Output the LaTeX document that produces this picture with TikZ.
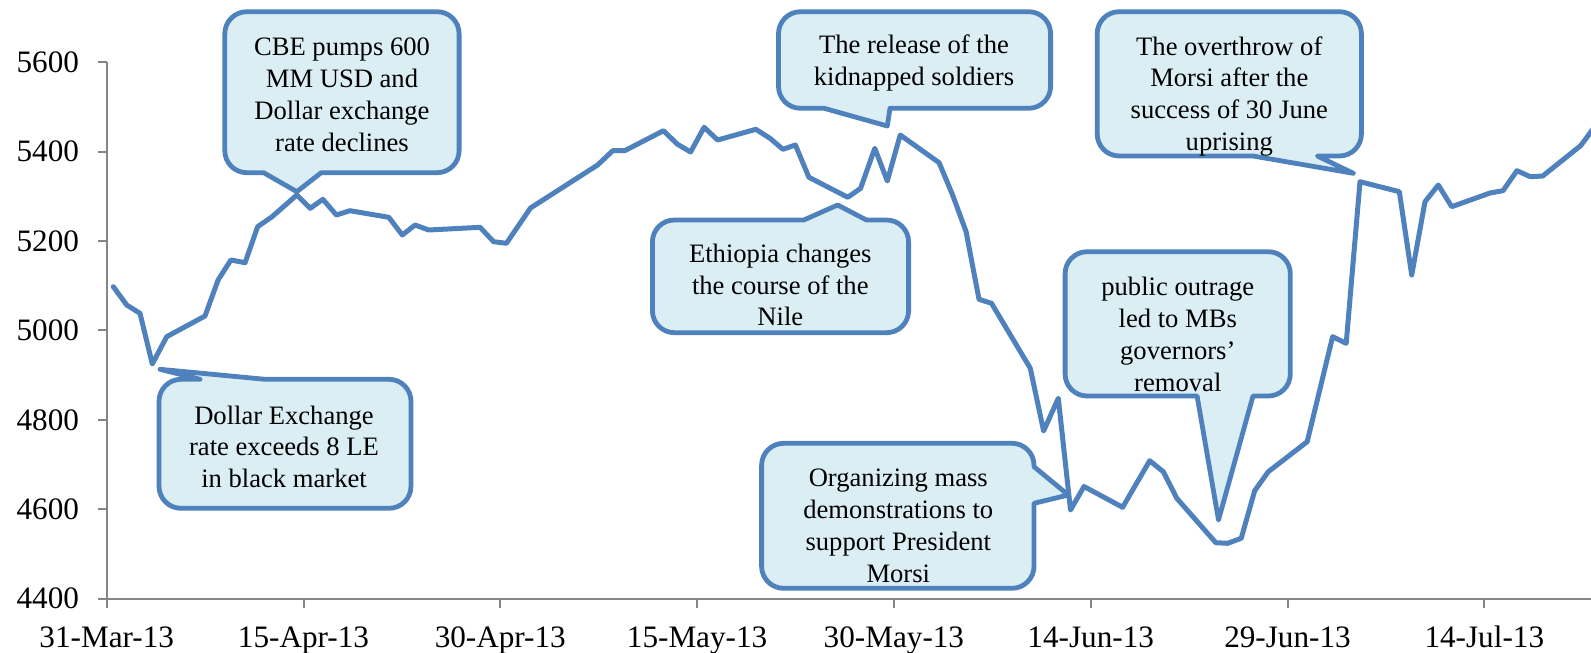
\documentclass[tikz,border=0pt]{standalone}
\usepackage{fontspec}
\setmainfont{Liberation Serif}
\definecolor{cblue}{RGB}{79,129,189}
\definecolor{cfill}{RGB}{219,238,244}
\definecolor{axgray}{RGB}{134,134,134}
\newcommand\crad{22}
% bottom pointer: x1 y1 x2 y2 b1 b2 tx ty
\newcommand\cbottom[8]{%
  \path[callout] ({#1+\crad},#2) -- ({#3-\crad},#2) arc[start angle=270,end angle=360,radius=\crad]
   -- (#3,{#4-\crad}) arc[start angle=0,end angle=90,radius=\crad]
   -- (#6,#4) -- (#7,#8) -- (#5,#4)
   -- ({#1+\crad},#4) arc[start angle=90,end angle=180,radius=\crad]
   -- (#1,{#2+\crad}) arc[start angle=180,end angle=270,radius=\crad] -- cycle;}
% top pointer
\newcommand\ctop[8]{%
  \path[callout] ({#1+\crad},#2) -- (#5,#2) -- (#7,#8) -- (#6,#2)
   -- ({#3-\crad},#2) arc[start angle=270,end angle=360,radius=\crad]
   -- (#3,{#4-\crad}) arc[start angle=0,end angle=90,radius=\crad]
   -- ({#1+\crad},#4) arc[start angle=90,end angle=180,radius=\crad]
   -- (#1,{#2+\crad}) arc[start angle=180,end angle=270,radius=\crad] -- cycle;}
% right pointer
\newcommand\cright[8]{%
  \path[callout] ({#1+\crad},#2) -- ({#3-\crad},#2) arc[start angle=270,end angle=360,radius=\crad]
   -- (#3,#5) -- (#7,#8) -- (#3,#6)
   -- (#3,{#4-\crad}) arc[start angle=0,end angle=90,radius=\crad]
   -- ({#1+\crad},#4) arc[start angle=90,end angle=180,radius=\crad]
   -- (#1,{#2+\crad}) arc[start angle=180,end angle=270,radius=\crad] -- cycle;}
\begin{document}
\begin{tikzpicture}[x=0.5pt,y=-0.5pt,
  callout/.style={draw=cblue,fill=cfill,line width=2.4pt,line join=round},
  series/.style={draw=cblue,line width=2.5pt,line join=round,line cap=round},
  axisline/.style={draw=axgray,line width=1pt},
  ylab/.style={anchor=east,inner sep=0pt,font=\fontsize{15.6}{18}\selectfont},
  xlab/.style={anchor=base,inner sep=0pt,font=\fontsize{15.6}{18}\selectfont},
  note/.style={align=center,inner sep=0pt,font=\fontsize{13.3}{15.9}\selectfont}]
\useasboundingbox (0,0) rectangle (1591,653);
\clip (0,0) rectangle (1591,653);
% axes
\draw[axisline] (106.7,62.3) -- (106.7,598.6) -- (1595,598.6);
\foreach \i in {0,...,6}{
  \pgfmathsetmacro\yy{598.6-\i*89.38}
  \pgfmathtruncatemacro\val{4400+200*\i}
  \draw[axisline] (98,\yy) -- (106.7,\yy);
  \node[ylab] (yl\i) at (79.4,\yy) {\val};
}
\foreach \d [count=\k from 0] in {31-Mar-13,15-Apr-13,30-Apr-13,15-May-13,30-May-13,14-Jun-13,29-Jun-13,14-Jul-13}{
  \pgfmathsetmacro\xx{106.7+\k*196.8}
  \draw[axisline] (\xx,598.6) -- (\xx,607.5);
  \node[xlab] (xl\k) at (\xx,647) {\d};
}
% series
\draw[series] (113.3,286.7) -- (126.7,305) -- (140,313.3) -- (152.3,364) -- (166.7,336.7)
 -- (205,316) -- (218.1,280) -- (230.9,260) -- (245.1,262.7) -- (257.6,226.7) -- (272.1,216.7)
 -- (296.8,195) -- (310.3,208.3) -- (322.9,199.3) -- (336.4,215) -- (349.9,210.7) -- (388.8,217.3)
 -- (402.3,235) -- (415.1,225) -- (428.7,230) -- (480.1,227.3) -- (493.6,241.7) -- (506.4,243.3)
 -- (530.5,208) -- (597.6,165) -- (612.8,150.7) -- (624.7,150.7) -- (663.5,130.7) -- (677.1,144)
 -- (690.6,152) -- (704.1,127.3) -- (717.6,140) -- (755.8,129.3) -- (770,138.3) -- (782.9,149.3)
 -- (795.4,145) -- (808.9,177.3) -- (847.8,197.3) -- (860.6,188.3) -- (874.8,148.3) -- (887.3,181)
 -- (900.2,135) -- (939.1,162.7) -- (952.6,195) -- (966.1,231.7) -- (979,299.3) -- (991.5,303.3)
 -- (1030.3,368.3) -- (1043.6,431) -- (1058.3,398.3) -- (1070.5,510) -- (1084,486.5)
 -- (1122.6,507.3) -- (1149.7,460.7) -- (1163.3,471.7) -- (1176.8,498.3) -- (1215.8,542.7)
 -- (1227.6,543.3) -- (1241.2,538.3) -- (1254.7,490.7) -- (1268.3,471.7) -- (1307.2,441.7)
 -- (1332.6,336.7) -- (1346.2,343.3) -- (1360,181.7) -- (1399.3,191.7) -- (1411.7,275)
 -- (1425,201.7) -- (1438.3,185) -- (1451.7,206.7) -- (1490,193) -- (1503,190.7)
 -- (1516.9,170.7) -- (1530.3,176.7) -- (1542.7,176) -- (1580.8,145.5) -- (1591,131.7) -- (1600,120);
% callouts
\cbottom{224.8}{11.7}{459.1}{172.7}{263.7}{321.2}{296.8}{191.7}
\cbottom{778.5}{11.7}{1050.6}{108.3}{824.1}{890}{887.3}{126}
\ctop{652.4}{220}{908.6}{332.7}{803.8}{866.4}{837.6}{205}
\cbottom{1097.2}{11.7}{1361.4}{156}{1253}{1317.4}{1353.3}{173.3}
\cbottom{1065.1}{251.7}{1290.3}{396}{1197.1}{1253}{1218.5}{520}
\cright{761.6}{443.3}{1034}{588.3}{466.7}{503.3}{1068.3}{495}
\ctop{159}{379.3}{411}{508.3}{200}{265}{160}{369.3}
% texts
\node[note] (n1) at (342,94.7) {CBE pumps 600\\MM USD and\\Dollar exchange\\rate declines};
\node[note] (n2) at (914,62.7) {The release of the\\kidnapped soldiers};
\node[note] (n3) at (780.3,285) {Ethiopia changes\\the course of the\\Nile};
\node[note] (n4) at (1229.3,96.3) {The overthrow of\\Morsi after the\\success of 30 June\\uprising};
\node[note] (n5) at (1177.8,334.2) {public outrage\\led to MBs\\governors’\\removal};
\node[note] (n6) at (898.3,525.8) {Organizing mass\\demonstrations to\\support President\\Morsi};
\node[note] (n7) at (284,446.7) {Dollar Exchange\\rate exceeds 8 LE\\in black market};
\end{tikzpicture}
\end{document}
